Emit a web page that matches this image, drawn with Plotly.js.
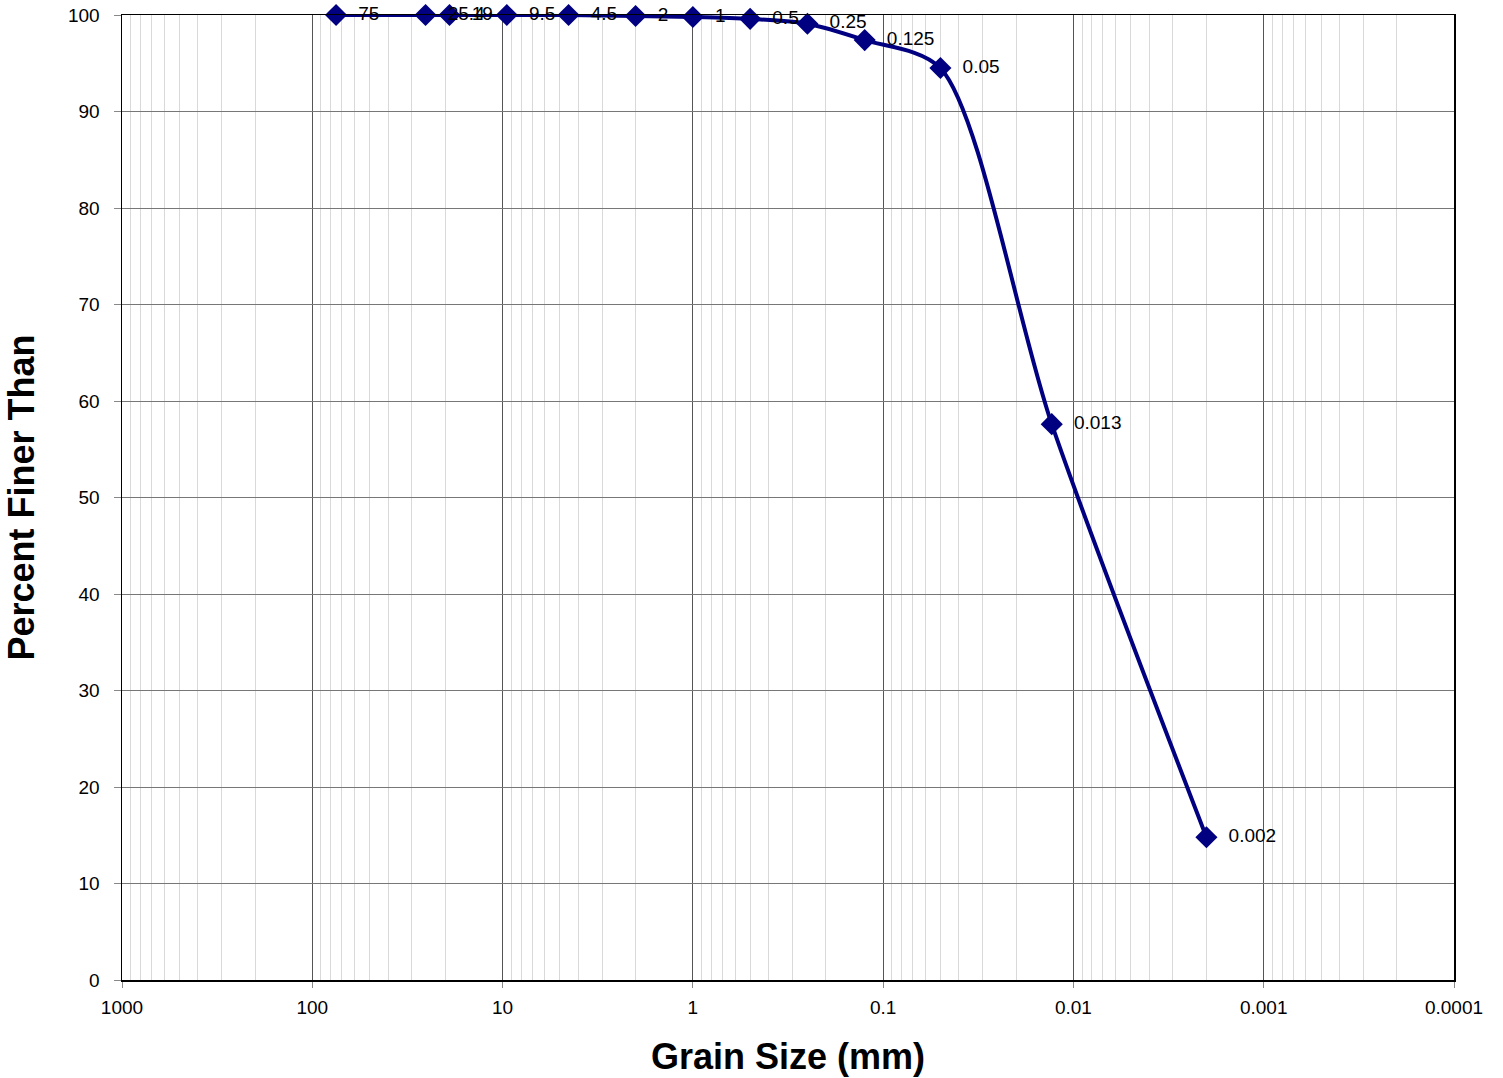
<!DOCTYPE html>
<html>
<head>
<meta charset="utf-8">
<script src="https://cdn.plot.ly/plotly-3.0.1.min.js"></script>
<style>html,body{margin:0;padding:0;background:#fff;}#chart{width:1503px;height:1078px;}</style>
</head>
<body>
<div id="chart"></div>
<script>
const grainSize = [75, 25.4, 19, 9.5, 4.5, 2, 1, 0.5, 0.25, 0.125, 0.05, 0.013, 0.002];
const percentFiner = [100, 100, 100, 100, 100, 99.9, 99.8, 99.6, 99.1, 97.4, 94.5, 57.6, 14.8];
const pointLabels = ["75", "25.4", "19", "9.5", "4.5", "2", "1", "0.5", "0.25", "0.125", "0.05", "0.013", "0.002"];
const xTickVals = [1000, 100, 10, 1, 0.1, 0.01, 0.001, 0.0001];
const xTickText = ["1000", "100", "10", "1", "0.1", "0.01", "0.001", "0.0001"];

const trace = {
  x: grainSize,
  y: percentFiner,
  text: pointLabels.map(t => "  " + t),
  mode: "lines+markers+text",
  type: "scatter",
  textposition: "middle right",
  textfont: {family: "Liberation Sans, Arial, sans-serif", size: 19, color: "#000"},
  line: {color: "#000080", width: 4, shape: "spline", smoothing: 0.8},
  marker: {symbol: "diamond", size: 17, color: "#000080"},
  cliponaxis: false,
  hoverinfo: "x+y"
};

const layout = {
  width: 1503,
  height: 1078,
  margin: {l: 122, r: 49, t: 15, b: 98},
  paper_bgcolor: "#fff",
  plot_bgcolor: "#fff",
  showlegend: false,
  font: {family: "Liberation Sans, Arial, sans-serif", size: 19, color: "#000"},
  xaxis: {
    type: "log",
    autorange: false,
    range: [3, -4],
    tickmode: "array",
    tickvals: xTickVals,
    ticktext: xTickText,
    ticks: "outside",
    ticklen: 6,
    tickcolor: "#888",
    ticklabelstandoff: 4,
    showgrid: true,
    gridcolor: "#555",
    gridwidth: 1,
    minor: {showgrid: true, gridcolor: "#d9d9d9", gridwidth: 1, dtick: "D1", ticks: ""},
    showline: true,
    linecolor: "#000",
    linewidth: 1.5,
    mirror: true,
    zeroline: false,
    tickfont: {size: 19},
    title: {text: "<b>Grain Size (mm)</b>", font: {size: 36}, standoff: 26}
  },
  yaxis: {
    autorange: false,
    range: [0, 100],
    dtick: 10,
    ticks: "outside",
    ticklen: 7,
    tickcolor: "#888",
    ticklabelstandoff: 10,
    showgrid: true,
    gridcolor: "#777",
    gridwidth: 1,
    showline: true,
    linecolor: "#000",
    linewidth: 1.5,
    mirror: true,
    zeroline: false,
    tickfont: {size: 19},
    title: {text: "<b>Percent Finer Than</b>", font: {size: 36}, standoff: 22}
  }
};

Plotly.newPlot("chart", [trace], layout, {displayModeBar: false, staticPlot: true});
</script>
</body>
</html>
